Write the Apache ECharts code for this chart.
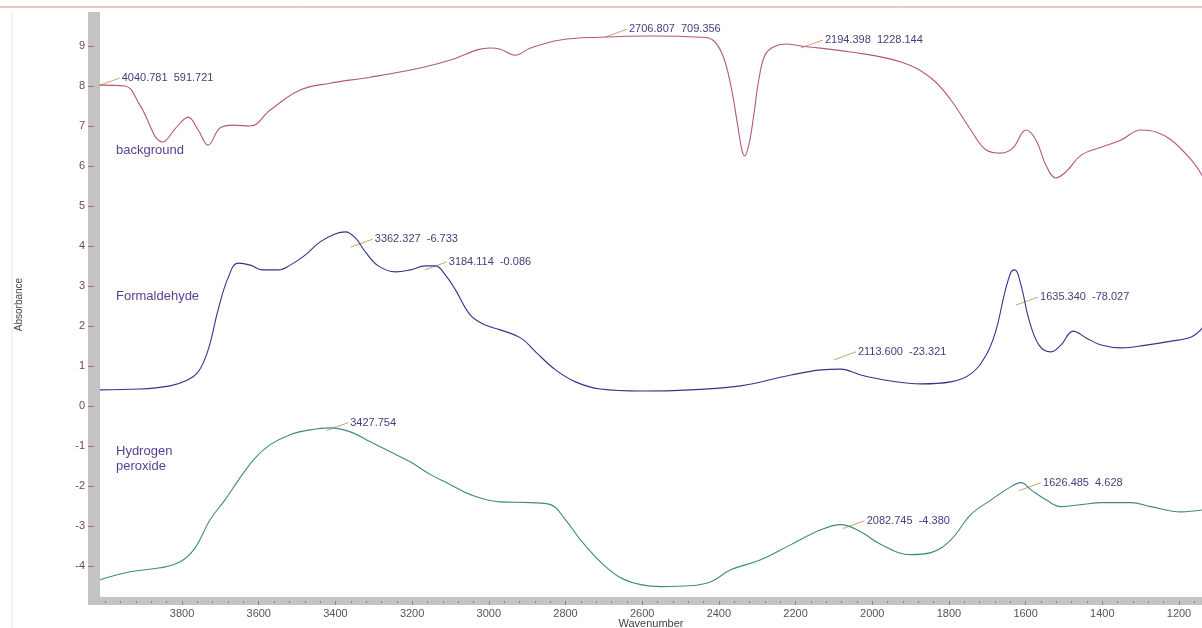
<!DOCTYPE html>
<html>
<head>
<meta charset="utf-8">
<script src="https://cdn.jsdelivr.net/npm/echarts@6/dist/echarts.min.js"></script>
<style>
  html, body { margin: 0; padding: 0; background: #ffffff; }
  #chart { width: 1202px; height: 628px; }
</style>
</head>
<body>
<div id="chart"></div>
<script>
// wavenumber / absorbance
const bgWave = [4014, 3949, 3910, 3850, 3816, 3784, 3758, 3732, 3701, 3667, 3622, 3570, 3492, 3414, 3309, 3179, 3100, 2996, 2970, 2931, 2891, 2813, 2709, 2578, 2448, 2416, 2390, 2369, 2351, 2340, 2333, 2322, 2309, 2296, 2280, 2259, 2226, 2186, 2056, 1925, 1847, 1795, 1743, 1703, 1664, 1633, 1599, 1573, 1547, 1521, 1495, 1455, 1403, 1351, 1299, 1260, 1220, 1168, 1137]
const bgAbs = [8.02, 8.0, 7.52, 6.6, 6.95, 7.22, 6.9, 6.52, 6.95, 7.02, 7.0, 7.4, 7.9, 8.07, 8.22, 8.45, 8.65, 8.95, 8.92, 8.77, 8.95, 9.15, 9.22, 9.25, 9.22, 9.15, 8.77, 8.02, 7.02, 6.4, 6.25, 6.52, 7.27, 8.15, 8.77, 8.97, 9.05, 9.0, 8.85, 8.6, 8.2, 7.65, 6.9, 6.4, 6.32, 6.45, 6.9, 6.65, 6.02, 5.7, 5.85, 6.27, 6.47, 6.65, 6.9, 6.85, 6.65, 6.15, 5.72]

const fmWave = [4014, 3910, 3831, 3792, 3758, 3732, 3706, 3680, 3654, 3622, 3591, 3549, 3518, 3479, 3440, 3401, 3374, 3348, 3322, 3288, 3244, 3205, 3166, 3139, 3113, 3087, 3048, 3009, 2970, 2917, 2878, 2826, 2774, 2709, 2604, 2474, 2343, 2212, 2134, 2082, 2030, 1951, 1873, 1795, 1743, 1703, 1677, 1656, 1638, 1628, 1612, 1591, 1565, 1534, 1508, 1476, 1442, 1403, 1351, 1286, 1220, 1168, 1137]
const fmAbs = [0.4, 0.42, 0.5, 0.62, 0.85, 1.4, 2.4, 3.2, 3.57, 3.52, 3.4, 3.4, 3.52, 3.77, 4.1, 4.3, 4.35, 4.2, 3.85, 3.5, 3.35, 3.4, 3.5, 3.5, 3.27, 2.9, 2.27, 2.02, 1.9, 1.7, 1.35, 0.9, 0.6, 0.42, 0.37, 0.4, 0.5, 0.77, 0.9, 0.92, 0.77, 0.62, 0.55, 0.6, 0.8, 1.27, 1.9, 2.77, 3.35, 3.4, 3.02, 2.15, 1.52, 1.35, 1.52, 1.87, 1.7, 1.52, 1.45, 1.52, 1.62, 1.72, 1.97]

const hpWave = [4014, 3936, 3857, 3805, 3766, 3727, 3688, 3649, 3609, 3570, 3518, 3466, 3414, 3361, 3309, 3257, 3205, 3152, 3100, 3048, 2970, 2891, 2839, 2800, 2761, 2709, 2656, 2604, 2552, 2474, 2421, 2369, 2291, 2212, 2134, 2082, 2030, 1977, 1899, 1847, 1795, 1743, 1690, 1638, 1612, 1586, 1547, 1508, 1455, 1403, 1325, 1273, 1194, 1137]
const hpAbs = [-4.35, -4.15, -4.05, -3.9, -3.55, -2.85, -2.35, -1.8, -1.3, -0.97, -0.72, -0.6, -0.55, -0.65, -0.9, -1.15, -1.4, -1.72, -1.97, -2.22, -2.4, -2.42, -2.47, -2.85, -3.35, -3.9, -4.3, -4.47, -4.52, -4.5, -4.4, -4.1, -3.85, -3.47, -3.1, -2.97, -3.15, -3.47, -3.72, -3.67, -3.35, -2.72, -2.35, -2.02, -1.92, -2.1, -2.35, -2.52, -2.47, -2.42, -2.42, -2.52, -2.65, -2.6]

// peak labels
const annoWave = [4020, 2697, 2186, 3360, 3167, 1625, 2100, 3424, 2077, 1617]
const annoAbs = [8.0, 9.22, 8.95, 3.97, 3.4, 2.52, 1.15, -0.62, -3.07, -2.12]
const annoText = ['4040.781  591.721', '2706.807  709.356', '2194.398  1228.144', '3362.327  -6.733', '3184.114  -0.086', '1635.340  -78.027', '2113.600  -23.321', '3427.754', '2082.745  -4.380', '1626.485  4.628']

// axis ticks
const xTicks = [3800, 3600, 3400, 3200, 3000, 2800, 2600, 2400, 2200, 2000, 1800, 1600, 1400, 1200]
const yTicks = [-4, -3, -2, -1, 0, 1, 2, 3, 4, 5, 6, 7, 8, 9]
const xMinor = []
for (let w = 1160; w <= 4000; w += 40) xMinor.push(w)

const zip = (a, b) => a.map((v, i) => [v, b[i]])

const font = 'Liberation Sans'
const axisGrey = '#c4c4c4'
const tickRed = '#c46a6a'

const myChart = echarts.init(document.getElementById('chart'))

const xBase = {
  type: 'value',
  inverse: true,
  min: 1140,
  max: 4014,
  position: 'bottom',
  offset: 4,
  splitLine: { show: false }
}

const options = {
  animation: false,
  backgroundColor: '#ffffff',
  grid: { left: 100, right: 0, top: 12, bottom: 31, outerBoundsMode: 'none' },
  xAxis: [
    Object.assign({}, xBase, {
      name: 'Wavenumber',
      nameLocation: 'middle',
      nameGap: 17,
      nameMoveOverlap: false,
      nameTextStyle: { color: '#444', fontFamily: font, fontSize: 11 },
      axisLine: { show: true, onZero: false, lineStyle: { color: axisGrey, width: 8, cap: 'butt' } },
      axisTick: { show: true, customValues: xTicks, length: 4, lineStyle: { color: tickRed, width: 1 } },
      axisLabel: { customValues: xTicks, margin: 7, color: '#555', fontFamily: font, fontSize: 11, formatter: (v) => String(v) }
    }),
    Object.assign({}, xBase, {
      axisLine: { show: false, onZero: false },
      axisTick: { show: true, customValues: xMinor, length: 2, lineStyle: { color: '#9a7a7a', width: 1 } },
      axisLabel: { show: false }
    })
  ],
  yAxis: {
    type: 'value',
    min: -4.78,
    max: 9.85,
    offset: 6,
    splitLine: { show: false },
    axisLine: { show: true, lineStyle: { color: axisGrey, width: 12, cap: 'butt' } },
    axisTick: { show: true, customValues: yTicks, length: 6, lineStyle: { color: tickRed, width: 1 } },
    axisLabel: { customValues: yTicks, margin: 9, color: '#555', fontFamily: font, fontSize: 11 },
    name: 'Absorbance',
    nameLocation: 'middle',
    nameRotate: 90,
    nameGap: 70,
    nameMoveOverlap: false,
    nameTextStyle: { color: '#444', fontFamily: font, fontSize: 10 }
  },
  graphic: [
    // top border and left rule
    { type: 'line', shape: { x1: 0, y1: 7, x2: 1202, y2: 7 }, style: { stroke: '#e58a8a', lineWidth: 1 } },
    { type: 'line', shape: { x1: 12, y1: 12, x2: 12, y2: 628 }, style: { stroke: '#e6e6e6', lineWidth: 1 } },
    { type: 'rect', shape: { x: 88, y: 597, width: 12, height: 8 }, style: { fill: axisGrey } },
    // curve names
    { type: 'text', left: 116, top: 144, style: { text: 'background', fill: '#5b3f8f', font: '13px ' + font } },
    { type: 'text', left: 116, top: 290, style: { text: 'Formaldehyde', fill: '#5b3f8f', font: '13px ' + font } },
    { type: 'text', left: 116, top: 444, style: { text: 'Hydrogen\nperoxide', fill: '#5b3f8f', font: '13px ' + font, lineHeight: 15 } }
  ],
  series: [
    {
      name: 'background',
      type: 'line',
      data: zip(bgWave, bgAbs),
      smooth: 0.4,
      showSymbol: false,
      lineStyle: { color: '#b5548a', width: 1.1 }
    },
    {
      name: 'Formaldehyde',
      type: 'line',
      data: zip(fmWave, fmAbs),
      smooth: 0.4,
      showSymbol: false,
      lineStyle: { color: '#33338a', width: 1.1 }
    },
    {
      name: 'Hydrogen peroxide',
      type: 'line',
      data: zip(hpWave, hpAbs),
      smooth: 0.4,
      showSymbol: false,
      lineStyle: { color: '#3f8a80', width: 1.1 }
    },
    {
      // peak labels with leader lines
      type: 'custom',
      clip: false,
      data: annoWave.map((w, i) => [w, annoAbs[i], i]),
      renderItem: function (params, api) {
        const p = api.coord([api.value(0), api.value(1)])
        const i = api.value(2)
        const dx = 22
        const dy = -8
        return {
          type: 'group',
          children: [
            { type: 'line', shape: { x1: p[0], y1: p[1], x2: p[0] + dx, y2: p[1] + dy }, style: { stroke: '#c9a36a', lineWidth: 1 } },
            { type: 'text', x: p[0] + dx + 2, y: p[1] + dy, style: { text: annoText[i], fill: '#4b3b7b', font: '11px ' + font, verticalAlign: 'middle' } }
          ]
        }
      }
    }
  ]
}
myChart.setOption(options)
</script>
</body>
</html>
